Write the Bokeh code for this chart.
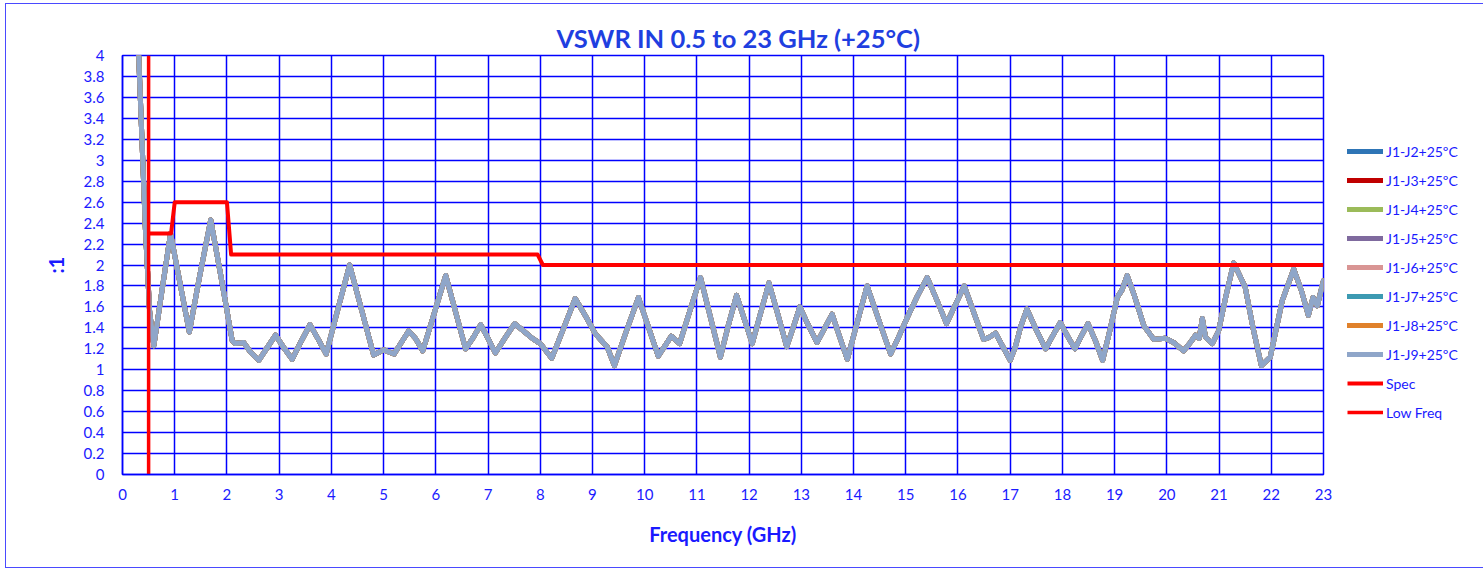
from bokeh.plotting import figure
from bokeh.models import Legend, LegendItem, Range1d, FixedTicker, Title
from bokeh.embed import file_html
from bokeh.resources import INLINE

# ---- data ----
freq = [0.25, 0.31, 0.44, 0.52, 0.60, 0.76, 0.92, 1.10, 1.28, 1.48, 1.69, 1.90, 2.10, 2.16,
        2.32, 2.45, 2.61, 2.77, 2.93, 3.09, 3.25, 3.42, 3.59, 3.75, 3.90, 4.12, 4.35, 4.58,
        4.81, 5.00, 5.20, 5.34, 5.48, 5.61, 5.75, 5.97, 6.19, 6.38, 6.57, 6.72, 6.86, 7.00,
        7.14, 7.32, 7.51, 7.68, 7.85, 8.00, 8.22, 8.45, 8.67, 8.87, 9.06, 9.28, 9.42, 9.65,
        9.88, 10.07, 10.26, 10.51, 10.67, 10.87, 11.07, 11.26, 11.45, 11.60, 11.76, 11.91,
        12.06, 12.22, 12.38, 12.55, 12.72, 12.85, 12.97, 13.13, 13.30, 13.45, 13.59, 13.73,
        13.88, 14.07, 14.26, 14.48, 14.71, 14.87, 15.03, 15.22, 15.41, 15.60, 15.78, 15.95,
        16.12, 16.30, 16.49, 16.60, 16.72, 16.86, 17.00, 17.10, 17.20, 17.32, 17.50, 17.68,
        17.82, 17.96, 18.10, 18.24, 18.37, 18.49, 18.63, 18.77, 18.92, 19.05, 19.14, 19.24,
        19.37, 19.56, 19.75, 19.97, 20.13, 20.32, 20.45, 20.55, 20.62, 20.68, 20.74, 20.87,
        20.99, 21.13, 21.28, 21.50, 21.65, 21.81, 21.98, 22.21, 22.43, 22.58, 22.71, 22.80,
        22.88, 23.00]
vswr = [4.60, 4.00, 2.33, 1.55, 1.23, 1.77, 2.30, 1.83, 1.36, 1.90, 2.43, 1.85, 1.28, 1.25,
        1.26, 1.17, 1.09, 1.21, 1.33, 1.21, 1.10, 1.27, 1.43, 1.29, 1.15, 1.57, 2.00, 1.57,
        1.14, 1.19, 1.15, 1.26, 1.37, 1.30, 1.18, 1.54, 1.90, 1.55, 1.20, 1.31, 1.43, 1.30,
        1.16, 1.30, 1.44, 1.37, 1.30, 1.25, 1.11, 1.40, 1.68, 1.51, 1.34, 1.22, 1.04, 1.37,
        1.69, 1.41, 1.13, 1.32, 1.25, 1.57, 1.88, 1.50, 1.12, 1.42, 1.71, 1.48, 1.25, 1.54,
        1.83, 1.53, 1.22, 1.41, 1.60, 1.43, 1.26, 1.40, 1.53, 1.32, 1.10, 1.45, 1.80, 1.48,
        1.15, 1.32, 1.50, 1.70, 1.88, 1.66, 1.44, 1.62, 1.80, 1.55, 1.29, 1.31, 1.35, 1.22,
        1.09, 1.22, 1.41, 1.58, 1.38, 1.20, 1.33, 1.45, 1.32, 1.20, 1.33, 1.44, 1.28, 1.09,
        1.40, 1.69, 1.76, 1.90, 1.72, 1.42, 1.29, 1.30, 1.26, 1.18, 1.26, 1.33, 1.30, 1.49,
        1.31, 1.25, 1.37, 1.70, 2.02, 1.79, 1.40, 1.04, 1.12, 1.66, 1.96, 1.75, 1.52, 1.69,
        1.61, 1.85]

series_names = ["J1-J2+25ºC", "J1-J3+25ºC", "J1-J4+25ºC", "J1-J5+25ºC",
                "J1-J6+25ºC", "J1-J7+25ºC", "J1-J8+25ºC", "J1-J9+25ºC"]
series_colors = ["#2E75B6", "#C00000", "#9BBB59", "#7F6A9E",
                 "#D99594", "#3C9AB2", "#E0812B", "#8FA6C9"]

spec_f = [0.5, 0.93, 1.0, 2.0, 2.08, 7.95, 8.05, 23.0]
spec_v = [2.3, 2.3, 2.6, 2.6, 2.1, 2.1, 2.0, 2.0]

low_f = [0.5, 0.5]
low_v = [0.0, 4.0]

x_ticks = list(range(0, 24))
y_ticks = [round(0.2 * i, 1) for i in range(0, 21)]

BLUE = "#0000FF"
TXT = "#1a1aff"
FONT = "Lato"

p = figure(frame_width=1201, frame_height=419, output_backend="svg", toolbar_location=None,
           x_range=Range1d(0, 23), y_range=Range1d(0, 4),
           min_border_left=116, min_border_right=153, min_border_top=51, min_border_bottom=93)
p.styles = {"border": "1px solid #4a4aff", "margin-left": "5px", "margin-top": "3px"}

p.title = Title(text="VSWR IN 0.5 to 23 GHz (+25°C)", align="left", offset=434,
                text_font=FONT, text_font_size="25.5px", text_font_style="bold",
                text_color="#1f3fe0", standoff=6)

p.xgrid.ticker = FixedTicker(ticks=x_ticks)
p.ygrid.ticker = FixedTicker(ticks=y_ticks)
p.xaxis.ticker = FixedTicker(ticks=x_ticks)
p.yaxis.ticker = FixedTicker(ticks=y_ticks)
p.yaxis.major_label_overrides = {v: ("%g" % v) for v in y_ticks}

for g in (p.xgrid, p.ygrid):
    g.grid_line_color = BLUE
    g.grid_line_width = 1.5
    g.grid_line_alpha = 1.0

p.outline_line_color = BLUE
p.outline_line_width = 1.5

for ax in (p.xaxis, p.yaxis):
    ax.axis_line_color = BLUE
    ax.axis_line_width = 1.5
    ax.major_tick_line_color = None
    ax.minor_tick_line_color = None
    ax.major_label_text_color = TXT
    ax.major_label_text_font = FONT
    ax.major_label_text_font_size = "15px"
    ax.axis_label_text_color = TXT
    ax.axis_label_text_font = FONT
    ax.axis_label_text_font_style = "bold"
    ax.axis_label_text_font_size = "20px"

p.xaxis.major_label_standoff = 8
p.yaxis.major_label_standoff = 12
p.xaxis.axis_label = "Frequency (GHz)"
p.xaxis.axis_label_standoff = 19
p.yaxis.axis_label = ":1"
p.yaxis.axis_label_standoff = 13

items = []
for name, col in zip(series_names, series_colors):
    r = p.line(freq, vswr, line_color=col, line_width=5, line_join="round", line_cap="round")
    items.append(LegendItem(label=name, renderers=[r]))
spec_r = p.line(spec_f, spec_v, line_color="#FF0000", line_width=4, line_join="round")
low_r = p.line(low_f, low_v, line_color="#FF0000", line_width=3.5)
items.append(LegendItem(label="Spec", renderers=[spec_r]))
items.append(LegendItem(label="Low Freq", renderers=[low_r]))

legend = Legend(items=items, location=(24, 52), orientation="vertical",
                glyph_width=36, glyph_height=20, label_height=20, spacing=9,
                label_standoff=3, padding=0, margin=0,
                label_text_font=FONT, label_text_font_size="14px", label_text_color=TXT,
                border_line_color=None, background_fill_alpha=0)
p.add_layout(legend, "right")

open("out.html", "w").write(file_html(p, INLINE))
